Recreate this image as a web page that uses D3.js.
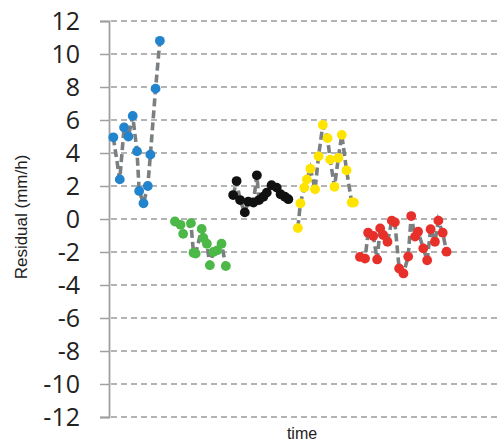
<!DOCTYPE html>
<html>
<head>
<meta charset="utf-8">
<script src="https://d3js.org/d3.v7.min.js"></script>
<style>
  html, body { margin: 0; padding: 0; background: #fff; }
  svg { display: block; }
</style>
</head>
<body>
<svg id="chart" width="499" height="443"></svg>
<script>
// ---- data ----
const yTicks = [12, 10, 8, 6, 4, 2, 0, -2, -4, -6, -8, -10, -12];
const xTitle = "time";
const yTitle = "Residual (mm/h)";

const blueT = [1, 2.5, 3.5, 4.5, 5.5, 6.5, 7, 8, 9, 9.6, 10.8, 11.8];
const blueY = [4.95, 2.4, 5.55, 5.0, 6.25, 4.1, 1.7, 0.95, 2.0, 3.9, 7.9, 10.8];

const greenT = [15.3, 16.6, 17.2, 19.0, 19.6, 20.1, 21.5, 21.9, 22.7, 23.4, 24.2, 25.1, 26.1, 27.1];
const greenY = [-0.15, -0.35, -0.9, -0.25, -2.05, -2.1, -0.6, -1.15, -1.5, -2.8, -2.0, -1.9, -1.5, -2.85];

const blackT = [28.8, 29.6, 30.4, 31.5, 32.3, 33.5, 34.3, 34.8, 35.8, 36.6, 37.7, 38.9, 39.8, 40.8, 41.6];
const blackY = [1.45, 2.3, 1.15, 0.4, 1.05, 1.0, 2.65, 1.15, 1.35, 1.6, 2.05, 1.9, 1.5, 1.35, 1.2];

const yellowT = [43.8, 44.4, 45.3, 45.9, 46.7, 47.8, 48.6, 49.6, 50.7, 51.3, 52.3, 53.2, 54.0, 55.1, 56.3, 56.8];
const yellowY = [-0.55, 0.95, 1.9, 2.4, 3.05, 1.8, 3.8, 5.7, 4.9, 3.6, 1.95, 3.7, 5.1, 2.95, 1.0, 1.0];

const redT = [58.2, 59.4, 60.1, 61.3, 62.2, 62.9, 63.6, 64.6, 65.6, 66.3, 67.3, 68.3, 69.4, 70.1, 71.0, 71.7, 72.9, 73.8, 74.6, 75.6, 76.4, 77.4, 78.3];
const redY = [-2.3, -2.4, -0.83, -1.03, -2.45, -0.57, -0.97, -1.38, -0.1, -0.2, -3.0, -3.3, -2.28, 0.18, -1.07, -0.77, -1.78, -2.5, -0.62, -1.38, -0.1, -0.83, -1.98];

const seriesNames = ["blue", "green", "black", "yellow", "red"];
const seriesT = [blueT, greenT, blackT, yellowT, redT];
const seriesY = [blueY, greenY, blackY, yellowY, redY];
const seriesColors = ["#2284cc", "#4cb848", "#111111", "#ffe400", "#e8302a"];

// ---- layout ----
const svg = d3.select("#chart");
const plotLeft = 109, plotRight = 497, plotTop = 21, plotBottom = 417;

const x = d3.scaleLinear().domain([0, 90]).range([plotLeft, plotRight]);
const y = d3.scaleLinear().domain([-12, 12]).range([plotBottom, plotTop]);

// gridlines
svg.append("g").selectAll("line")
  .data(yTicks).join("line")
  .attr("x1", plotLeft + 2).attr("x2", plotRight)
  .attr("y1", d => y(d)).attr("y2", d => y(d))
  .attr("stroke", "#9a9a9a").attr("stroke-width", 1.5)
  .attr("stroke-dasharray", "6,4");

// y axis
const yAxis = d3.axisLeft(y).tickValues(yTicks).tickSize(9).tickPadding(20)
  .tickFormat(d => d < 0 ? "-" + Math.abs(d) : String(d));
const gy = svg.append("g").attr("transform", `translate(${plotLeft},0)`).call(yAxis);
gy.select(".domain").attr("stroke", "#a0a0a0").attr("stroke-width", 1.8);
gy.selectAll(".tick line").attr("stroke", "#a0a0a0").attr("stroke-width", 1.5);
gy.selectAll(".tick text")
  .attr("font-family", "'Open Sans', sans-serif")
  .attr("font-size", 25).attr("fill", "#222");

// titles
svg.append("text")
  .attr("x", 302).attr("y", 439)
  .attr("text-anchor", "middle")
  .attr("font-family", "'Liberation Sans', Arial, sans-serif")
  .attr("font-size", 16).attr("fill", "#222")
  .text(xTitle);

svg.append("text")
  .attr("transform", "translate(27,217) rotate(-90)")
  .attr("text-anchor", "middle")
  .attr("font-family", "'Liberation Sans', Arial, sans-serif")
  .attr("font-size", 17).attr("fill", "#222")
  .text(yTitle);

// series
const line = d3.line().x(d => x(d[0])).y(d => y(d[1]));
seriesNames.forEach((name, i) => {
  const pts = seriesT[i].map((t, j) => [t, seriesY[i][j]]);
  const g = svg.append("g").attr("class", "series-" + name);
  g.append("path").datum(pts)
    .attr("d", line)
    .attr("fill", "none")
    .attr("stroke", "#7a7f82").attr("stroke-width", 3.6)
    .attr("stroke-dasharray", "8,4");
  g.selectAll("circle").data(pts).join("circle")
    .attr("cx", d => x(d[0])).attr("cy", d => y(d[1]))
    .attr("r", 4.9)
    .attr("fill", seriesColors[i]);
});
</script>
</body>
</html>
